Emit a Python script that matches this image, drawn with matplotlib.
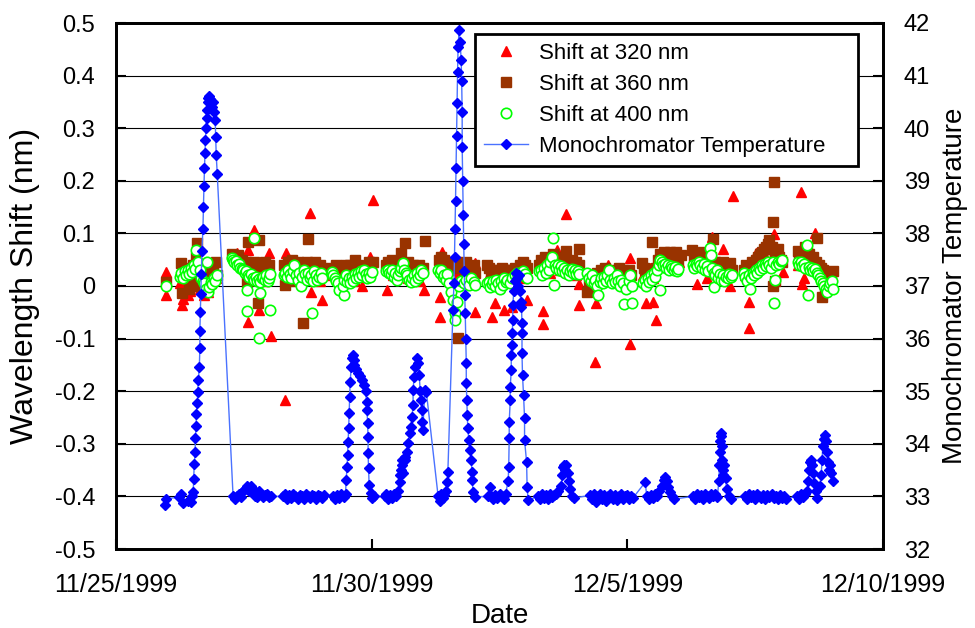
import datetime as dt
import numpy as np
import matplotlib
matplotlib.use("Agg")
import matplotlib.pyplot as plt
import matplotlib.dates as mdates
from matplotlib.ticker import FuncFormatter, MultipleLocator

plt.rcParams['font.family'] = ['Liberation Sans', 'DejaVu Sans']
plt.rcParams['axes.unicode_minus'] = False

start_date = dt.datetime(1999, 11, 25)
tick_days = [0, 5, 10, 15]

# (days after 11/25/1999, shift in nm)
shift320 = [
    (0.98, 0.027), (0.98, -0.017),
    (1.25, 0.005), (1.30, -0.036), (1.32, -0.024), (1.35, 0.01), (1.40, -0.017), (1.45, -0.01),
    (1.50, 0.0), (1.55, 0.02), (1.60, 0.01), (1.65, -0.005), (1.72, -0.017), (1.80, -0.011),
    (1.85, 0.005), (1.90, 0.03), (1.95, 0.015),
    (2.29, 0.06), (2.33, 0.05), (2.36, 0.062), (2.40, 0.045), (2.45, 0.04), (2.50, 0.035),
    (2.55, 0.03), (2.58, -0.068), (2.59, 0.068), (2.65, 0.02), (2.69, 0.106), (2.75, 0.015),
    (2.80, -0.046), (2.85, 0.02), (2.90, 0.01), (2.95, 0.015), (2.99, 0.062), (3.03, -0.095),
    (3.28, 0.03), (3.31, -0.217), (3.33, 0.062), (3.36, 0.02), (3.40, 0.035), (3.45, 0.025),
    (3.50, 0.049), (3.55, 0.02), (3.60, 0.03), (3.65, 0.015), (3.70, 0.025), (3.79, 0.138),
    (3.82, -0.011), (3.86, 0.02), (3.92, 0.03), (3.98, 0.01), (4.02, -0.027),
    (4.22, 0.02), (4.30, 0.035), (4.38, 0.01), (4.45, 0.025), (4.52, 0.015), (4.60, 0.03),
    (4.68, 0.01), (4.75, 0.02), (4.82, 0.0), (4.90, 0.025), (4.97, 0.056), (5.03, 0.164),
    (5.30, -0.008), (5.35, 0.03), (5.42, 0.02), (5.50, 0.035), (5.58, 0.025), (5.65, 0.03),
    (5.72, 0.015), (5.80, 0.02), (5.88, 0.03), (5.95, 0.01), (6.03, -0.007),
    (6.34, -0.02), (6.34, -0.058), (6.37, 0.065), (6.40, 0.03), (6.48, 0.02), (6.55, 0.035),
    (6.62, 0.03), (6.70, 0.025), (6.80, 0.04), (6.90, 0.03), (6.95, 0.01), (7.03, 0.043),
    (7.03, -0.049),
    (7.30, 0.02), (7.35, -0.058), (7.41, -0.033), (7.45, 0.01), (7.52, 0.025), (7.58, -0.046),
    (7.65, 0.015), (7.70, 0.02), (7.74, -0.039), (7.80, 0.01), (7.88, 0.025), (7.95, 0.015),
    (8.03, -0.026),
    (8.30, 0.03), (8.35, -0.048), (8.35, -0.072), (8.40, 0.035), (8.48, 0.025), (8.55, 0.04),
    (8.62, 0.069), (8.68, 0.03), (8.75, 0.04), (8.80, 0.136), (8.85, 0.025), (8.92, 0.035),
    (9.00, 0.02), (9.06, 0.004), (9.06, -0.036),
    (9.25, 0.01), (9.30, 0.02), (9.37, -0.145), (9.39, -0.033), (9.45, 0.015), (9.52, 0.025),
    (9.58, 0.03), (9.63, 0.04), (9.70, 0.02), (9.78, 0.03), (9.85, 0.015), (9.92, 0.025),
    (9.98, 0.01), (10.05, 0.054), (10.05, -0.111),
    (10.30, 0.02), (10.37, -0.032), (10.45, 0.035), (10.50, 0.015), (10.51, -0.03),
    (10.57, -0.064), (10.62, 0.04), (10.70, 0.05), (10.78, 0.045), (10.86, 0.055),
    (10.94, 0.05), (11.02, 0.045),
    (11.30, 0.06), (11.36, 0.004), (11.42, 0.045), (11.50, 0.05), (11.55, 0.015), (11.58, 0.04),
    (11.65, 0.094), (11.72, 0.035), (11.80, 0.03), (11.87, 0.071), (11.93, 0.025), (12.01, 0.0),
    (12.06, 0.171),
    (12.30, 0.02), (12.37, -0.030), (12.37, -0.079), (12.45, 0.03), (12.52, 0.062), (12.60, 0.045),
    (12.68, 0.06), (12.76, 0.07), (12.80, 0.05), (12.86, 0.099), (12.94, 0.06), (13.04, 0.027),
    (13.33, 0.04), (13.39, 0.178), (13.42, 0.004), (13.45, 0.015), (13.47, 0.05), (13.55, 0.045),
    (13.62, 0.06), (13.67, 0.1), (13.75, 0.04), (13.82, 0.02), (13.90, 0.01), (13.97, 0.015),
]

shift360 = [
    (0.98, 0.008),
    (1.28, 0.043), (1.30, -0.013), (1.35, 0.02), (1.40, 0.035), (1.42, -0.005), (1.45, 0.01),
    (1.50, 0.04), (1.52, 0.0), (1.58, 0.082), (1.57, 0.056), (1.60, 0.03), (1.65, 0.02),
    (1.70, 0.04), (1.75, 0.025), (1.80, 0.015), (1.85, 0.02), (1.90, 0.034), (1.95, 0.045),
    (1.97, 0.021),
    (2.26, 0.06), (2.30, 0.055), (2.34, 0.05), (2.38, 0.058), (2.42, 0.045), (2.46, 0.05),
    (2.50, 0.04), (2.54, 0.045), (2.56, 0.008), (2.59, 0.083), (2.60, 0.02), (2.62, 0.04),
    (2.66, 0.035), (2.70, 0.045), (2.74, 0.03), (2.78, -0.032), (2.80, 0.087), (2.84, 0.04),
    (2.88, 0.035), (2.92, 0.045), (2.96, 0.03), (3.00, 0.04),
    (3.28, 0.04), (3.30, 0.002), (3.32, 0.03), (3.36, 0.045), (3.40, 0.035), (3.44, 0.05),
    (3.48, 0.04), (3.50, 0.01), (3.52, 0.03), (3.56, 0.045), (3.60, 0.035), (3.64, 0.04),
    (3.66, -0.071), (3.70, 0.03), (3.74, 0.045), (3.76, 0.090), (3.82, 0.04), (3.86, 0.035),
    (3.90, 0.045), (3.94, 0.03), (3.98, 0.04), (4.02, 0.035),
    (4.22, 0.035), (4.26, 0.025), (4.30, 0.04), (4.34, 0.02), (4.38, 0.03), (4.42, 0.015),
    (4.46, 0.035), (4.50, 0.04), (4.54, 0.03), (4.58, 0.04), (4.62, 0.025), (4.67, 0.049),
    (4.70, 0.02), (4.74, 0.04), (4.78, 0.03), (4.82, 0.025), (4.86, 0.035), (4.90, 0.02),
    (4.94, 0.045), (4.98, 0.03), (5.03, 0.046),
    (5.28, 0.04), (5.32, 0.045), (5.36, 0.035), (5.40, 0.05), (5.44, 0.03), (5.48, 0.045),
    (5.52, 0.04), (5.58, 0.062), (5.65, 0.081), (5.64, 0.04), (5.68, 0.035), (5.72, 0.045),
    (5.76, 0.03), (5.80, 0.04), (5.84, 0.025), (5.88, 0.035), (5.92, 0.04), (5.96, 0.03),
    (6.00, 0.035), (6.04, 0.085),
    (6.32, 0.049), (6.35, 0.055), (6.38, 0.04), (6.41, 0.05), (6.44, 0.035), (6.47, 0.045),
    (6.50, 0.03), (6.55, 0.04), (6.69, -0.099), (6.65, 0.045), (6.70, 0.035), (6.75, 0.04),
    (6.80, 0.03), (6.85, 0.045), (6.90, 0.035), (6.95, 0.03), (7.00, 0.04), (7.03, 0.025),
    (7.26, 0.04), (7.30, 0.035), (7.34, 0.025), (7.38, 0.03), (7.42, 0.02), (7.46, 0.03),
    (7.50, 0.025), (7.54, 0.035), (7.58, 0.03), (7.62, 0.025), (7.66, 0.03), (7.70, 0.02),
    (7.75, 0.03), (7.80, 0.035), (7.85, 0.03), (7.90, 0.04), (7.95, 0.045), (8.00, 0.04),
    (8.03, 0.035),
    (8.27, 0.04), (8.31, 0.05), (8.35, 0.045), (8.39, 0.055), (8.43, 0.04), (8.47, 0.05),
    (8.51, 0.045), (8.55, 0.06), (8.59, 0.05), (8.63, 0.055), (8.67, 0.045), (8.71, 0.05),
    (8.75, 0.04), (8.80, 0.066), (8.84, 0.045), (8.88, 0.04), (8.92, 0.05), (8.96, 0.035),
    (9.00, 0.045), (9.05, 0.04), (9.06, 0.071),
    (9.22, -0.011), (9.25, 0.01), (9.28, 0.0), (9.31, 0.02), (9.34, -0.005), (9.37, 0.015),
    (9.40, 0.025), (9.44, 0.01), (9.48, 0.03), (9.52, 0.02), (9.56, 0.035), (9.60, 0.025),
    (9.64, 0.03), (9.68, 0.02), (9.72, 0.028), (9.76, 0.015), (9.80, 0.025), (9.84, 0.035),
    (9.88, 0.02), (9.92, 0.03), (9.96, 0.015), (10.00, 0.025), (10.04, 0.03), (10.08, 0.02),
    (10.29, 0.043), (10.32, 0.035), (10.35, 0.03), (10.38, 0.02), (10.41, 0.025), (10.44, 0.015),
    (10.47, 0.03), (10.48, 0.084), (10.53, 0.025), (10.56, 0.035), (10.60, 0.05), (10.64, 0.06),
    (10.68, 0.058), (10.72, 0.065), (10.76, 0.055), (10.80, 0.06), (10.84, 0.065), (10.88, 0.055),
    (10.92, 0.06), (10.96, 0.065), (11.00, 0.05), (11.04, 0.058),
    (11.27, 0.069), (11.30, 0.05), (11.33, 0.06), (11.36, 0.045), (11.40, 0.055), (11.44, 0.05),
    (11.48, 0.065), (11.52, 0.055), (11.56, 0.06), (11.60, 0.05), (11.64, 0.055), (11.68, 0.090),
    (11.72, 0.045), (11.76, 0.04), (11.80, 0.035), (11.84, 0.025), (11.88, 0.045), (11.92, 0.04),
    (11.96, 0.03), (12.00, 0.043), (12.04, 0.03),
    (12.28, 0.03), (12.32, 0.04), (12.36, 0.025), (12.40, 0.035), (12.44, 0.045), (12.48, 0.04),
    (12.52, 0.05), (12.56, 0.055), (12.60, 0.06), (12.64, 0.065), (12.68, 0.07), (12.72, 0.075),
    (12.75, 0.08), (12.78, 0.087), (12.80, 0.07), (12.83, 0.075), (12.84, 0.121), (12.86, 0.197),
    (12.85, 0.0), (12.88, 0.065), (12.88, 0.01), (12.91, 0.06), (12.94, 0.07), (12.97, 0.055),
    (13.00, 0.05), (13.03, 0.045),
    (13.33, 0.066), (13.36, 0.055), (13.40, 0.06), (13.44, 0.05), (13.48, 0.075), (13.52, 0.065),
    (13.56, 0.06), (13.60, 0.05), (13.64, 0.055), (13.68, 0.045), (13.70, 0.091), (13.74, 0.04),
    (13.78, 0.035), (13.82, 0.03), (13.80, -0.02), (13.86, -0.01), (13.94, 0.02), (13.98, 0.025),
    (14.02, 0.028),
]

shift400 = [
    (0.98, 0.0),
    (1.25, 0.018), (1.28, 0.024), (1.31, 0.015), (1.34, 0.028), (1.37, 0.02), (1.40, 0.03),
    (1.43, 0.022), (1.46, 0.035), (1.49, 0.026), (1.52, 0.04), (1.55, 0.032), (1.57, 0.069),
    (1.61, 0.045), (1.64, 0.03), (1.67, 0.015), (1.70, 0.01), (1.73, 0.005), (1.76, -0.005),
    (1.77, 0.046), (1.79, -0.011), (1.82, -0.002), (1.85, 0.008), (1.88, 0.003), (1.91, 0.016),
    (1.94, 0.01), (1.97, 0.02),
    (2.26, 0.053), (2.29, 0.05), (2.31, 0.045), (2.34, 0.048), (2.37, 0.04), (2.40, 0.042),
    (2.43, 0.035), (2.46, 0.033), (2.49, 0.03), (2.52, 0.025), (2.55, 0.028), (2.58, 0.02),
    (2.61, 0.018), (2.64, 0.022), (2.67, 0.015), (2.70, 0.012), (2.73, 0.018), (2.76, 0.01),
    (2.79, 0.014), (2.82, 0.008), (2.85, 0.015), (2.88, 0.018), (2.91, 0.012), (2.94, 0.02),
    (2.97, 0.009), (3.00, 0.015), (3.02, 0.022),
    (2.69, 0.092), (2.56, -0.008), (2.81, -0.013), (2.57, -0.047), (3.02, -0.046), (2.80, -0.098),
    (3.28, 0.02), (3.31, 0.025), (3.34, 0.018), (3.37, 0.03), (3.40, 0.022), (3.43, 0.015),
    (3.46, 0.028), (3.49, 0.04), (3.52, 0.02), (3.55, 0.012), (3.58, 0.025), (3.61, 0.0),
    (3.64, 0.018), (3.67, 0.03), (3.70, 0.022), (3.73, 0.012), (3.76, 0.025), (3.79, 0.015),
    (3.82, 0.02), (3.85, 0.01), (3.88, 0.028), (3.91, 0.02), (3.94, 0.012), (3.97, 0.018),
    (4.00, 0.025), (4.03, 0.015), (3.83, -0.052),
    (4.22, 0.027), (4.25, 0.02), (4.28, 0.015), (4.31, 0.01), (4.34, 0.005), (4.37, -0.008),
    (4.45, -0.017), (4.43, 0.0), (4.46, 0.012), (4.49, 0.02), (4.52, 0.008), (4.55, 0.015),
    (4.58, 0.005), (4.61, 0.018), (4.64, 0.01), (4.67, 0.022), (4.70, 0.015), (4.73, 0.025),
    (4.76, 0.018), (4.79, 0.028), (4.82, 0.02), (4.85, 0.03), (4.88, 0.022), (4.91, 0.015),
    (4.94, 0.025), (4.97, 0.018), (5.00, 0.027),
    (5.28, 0.028), (5.31, 0.03), (5.34, 0.025), (5.37, 0.022), (5.40, 0.03), (5.43, 0.018),
    (5.46, 0.025), (5.49, 0.012), (5.52, 0.02), (5.55, 0.028), (5.58, 0.035), (5.61, 0.043),
    (5.64, 0.03), (5.67, 0.025), (5.70, 0.02), (5.73, 0.012), (5.76, 0.008), (5.79, 0.015),
    (5.82, 0.02), (5.85, 0.01), (5.88, 0.025), (5.91, 0.015), (5.94, 0.02), (5.97, 0.03),
    (6.00, 0.025),
    (6.30, 0.03), (6.33, 0.024), (6.36, 0.03), (6.39, 0.018), (6.42, 0.02), (6.45, 0.012),
    (6.48, 0.022), (6.51, 0.005), (6.55, -0.011), (6.60, -0.027), (6.62, -0.052), (6.63, -0.065),
    (6.66, -0.03), (6.70, 0.0), (6.75, 0.01), (6.80, 0.005), (6.85, 0.012), (6.90, 0.002),
    (6.95, 0.015), (7.00, 0.008), (7.03, 0.002),
    (7.26, 0.005), (7.29, 0.008), (7.32, -0.002), (7.35, 0.003), (7.38, 0.01), (7.41, 0.0),
    (7.44, 0.012), (7.47, 0.006), (7.50, -0.005), (7.53, 0.01), (7.56, 0.002), (7.59, 0.015),
    (7.62, 0.008), (7.65, 0.012), (7.70, 0.005), (7.75, 0.015), (7.80, 0.02), (7.85, 0.025),
    (7.90, 0.02), (7.95, 0.028), (8.00, 0.022), (8.03, 0.015),
    (8.28, 0.028), (8.31, 0.03), (8.34, 0.02), (8.37, 0.035), (8.40, 0.025), (8.43, 0.04),
    (8.46, 0.03), (8.49, 0.045), (8.52, 0.056), (8.55, 0.092), (8.56, 0.002), (8.58, 0.04),
    (8.61, 0.035), (8.64, 0.04), (8.67, 0.03), (8.70, 0.038), (8.73, 0.028), (8.76, 0.035),
    (8.79, 0.025), (8.82, 0.03), (8.85, 0.02), (8.88, 0.028), (8.91, 0.032), (8.94, 0.025),
    (8.97, 0.03), (9.00, 0.022), (9.03, 0.028), (9.06, 0.023),
    (9.22, 0.024), (9.25, 0.015), (9.28, 0.01), (9.31, 0.02), (9.34, 0.005), (9.37, 0.012),
    (9.40, 0.0), (9.43, -0.017), (9.46, 0.008), (9.49, 0.015), (9.52, 0.005), (9.55, 0.018),
    (9.58, 0.01), (9.61, 0.02), (9.64, 0.03), (9.67, 0.012), (9.70, 0.005), (9.73, 0.015),
    (9.76, 0.008), (9.79, 0.02), (9.82, 0.01), (9.85, 0.0), (9.88, 0.012), (9.91, 0.005),
    (9.94, -0.034), (9.97, -0.005), (10.03, 0.01), (10.06, 0.02), (10.09, -0.032), (10.10, 0.0),
    (10.31, 0.005), (10.34, 0.012), (10.37, 0.0), (10.40, 0.015), (10.43, 0.008), (10.46, 0.02),
    (10.49, 0.012), (10.52, 0.025), (10.55, 0.018), (10.58, 0.03), (10.61, 0.04), (10.64, 0.049),
    (10.64, -0.008), (10.67, 0.045), (10.70, 0.04), (10.73, 0.042), (10.76, 0.035), (10.79, 0.04),
    (10.82, 0.03), (10.85, 0.038), (10.88, 0.035), (10.91, 0.03), (10.94, 0.036), (10.97, 0.028),
    (11.00, 0.032),
    (11.28, 0.04), (11.31, 0.035), (11.34, 0.042), (11.37, 0.038), (11.40, 0.045), (11.43, 0.04),
    (11.46, 0.035), (11.49, 0.042), (11.52, 0.03), (11.55, 0.038), (11.58, 0.028), (11.62, 0.072),
    (11.64, 0.059), (11.66, 0.035), (11.69, 0.025), (11.70, -0.001), (11.72, 0.02), (11.75, 0.03),
    (11.78, 0.015), (11.81, 0.022), (11.84, 0.012), (11.87, 0.02), (11.90, 0.01), (11.93, 0.018),
    (11.96, 0.015), (11.99, 0.022), (12.02, 0.018), (12.05, 0.02),
    (12.28, 0.024), (12.31, 0.018), (12.34, 0.01), (12.37, 0.02), (12.39, -0.005), (12.42, 0.015),
    (12.45, 0.025), (12.48, 0.02), (12.51, 0.03), (12.54, 0.025), (12.57, 0.035), (12.60, 0.03),
    (12.63, 0.04), (12.66, 0.035), (12.69, 0.042), (12.72, 0.038), (12.75, 0.045), (12.78, 0.04),
    (12.81, 0.035), (12.84, 0.045), (12.87, -0.033), (12.88, 0.011), (12.91, 0.04), (12.94, 0.045),
    (12.97, 0.042), (13.00, 0.048), (13.03, 0.049),
    (13.33, 0.046), (13.36, 0.04), (13.39, 0.045), (13.42, 0.038), (13.45, 0.042), (13.48, 0.035),
    (13.52, 0.078), (13.53, -0.017), (13.55, 0.036), (13.58, 0.03), (13.61, 0.035), (13.64, 0.028),
    (13.67, 0.032), (13.70, 0.025), (13.73, 0.02), (13.76, 0.015), (13.79, 0.01), (13.82, 0.005),
    (13.85, 0.0), (13.88, -0.005), (13.91, -0.011), (13.94, 0.0), (13.97, 0.005), (14.00, 0.01),
    (14.03, -0.005),
]

# (days after 11/25/1999, temperature)
mono_temp = [
    (0.96, 32.84), (0.97, 32.95), (1.24, 32.99), (1.28, 33.05), (1.32, 32.88), (1.40, 32.92),
    (1.46, 32.90), (1.49, 33.0), (1.51, 33.08), (1.52, 33.33), (1.53, 33.62), (1.55, 33.84),
    (1.55, 34.11), (1.57, 34.34), (1.57, 34.57), (1.59, 34.78), (1.60, 34.98), (1.61, 35.21),
    (1.63, 35.46), (1.64, 35.82), (1.64, 36.14), (1.65, 36.51), (1.66, 36.85), (1.67, 37.23),
    (1.68, 37.67), (1.70, 38.08), (1.71, 38.50), (1.72, 38.90), (1.73, 39.24), (1.74, 39.53),
    (1.75, 39.78), (1.76, 40.0), (1.77, 40.2), (1.78, 40.35), (1.79, 40.5), (1.80, 40.58),
    (1.82, 40.62), (1.84, 40.55), (1.86, 40.5), (1.88, 40.4), (1.90, 40.5), (1.92, 40.3),
    (1.94, 40.15), (1.95, 39.83), (1.96, 39.49), (1.98, 39.13),
    (2.29, 33.0), (2.32, 32.95), (2.36, 33.0), (2.40, 33.05), (2.44, 32.98), (2.48, 33.1),
    (2.52, 33.15), (2.56, 33.2), (2.60, 33.1), (2.64, 33.2), (2.68, 33.15), (2.72, 33.0),
    (2.76, 32.98), (2.80, 33.1), (2.84, 33.05), (2.88, 32.98), (2.92, 33.02), (2.96, 33.05),
    (3.00, 32.98), (3.04, 33.0),
    (3.27, 33.0), (3.31, 33.05), (3.35, 32.95), (3.39, 33.02), (3.43, 32.97), (3.47, 33.05),
    (3.51, 33.0), (3.55, 32.95), (3.59, 33.03), (3.63, 33.0), (3.67, 32.96), (3.71, 33.04),
    (3.75, 33.0), (3.79, 32.97), (3.83, 33.03), (3.87, 33.0), (3.91, 32.96), (3.95, 33.03),
    (3.99, 33.0), (4.03, 32.97), (4.07, 33.02),
    (4.25, 33.0), (4.29, 32.95), (4.33, 33.03), (4.37, 32.97), (4.41, 33.05), (4.45, 32.98),
    (4.49, 33.05), (4.50, 33.31), (4.52, 33.56), (4.53, 33.79), (4.54, 34.03), (4.55, 34.30),
    (4.56, 34.58), (4.57, 34.89), (4.58, 35.18), (4.60, 35.46), (4.62, 35.63), (4.63, 35.68),
    (4.65, 35.6), (4.66, 35.5), (4.69, 35.42), (4.73, 35.35), (4.77, 35.28), (4.81, 35.21),
    (4.85, 35.12), (4.88, 35.0), (4.90, 34.8), (4.91, 34.64), (4.92, 34.40), (4.93, 34.13),
    (4.93, 33.82), (4.94, 33.54), (4.95, 33.22), (4.99, 33.06), (5.01, 32.97), (5.04, 33.0),
    (5.26, 33.0), (5.29, 33.05), (5.32, 32.95), (5.36, 33.02), (5.40, 32.97), (5.44, 33.05),
    (5.48, 33.0), (5.52, 33.1), (5.55, 33.27), (5.56, 33.4), (5.57, 33.50), (5.59, 33.69),
    (5.60, 33.6), (5.62, 33.45), (5.65, 33.75), (5.66, 33.7), (5.69, 33.84), (5.71, 34.02),
    (5.75, 34.21), (5.77, 34.32), (5.79, 34.51), (5.81, 34.74), (5.81, 35.02), (5.83, 35.27),
    (5.85, 35.46), (5.89, 35.63), (5.91, 35.54), (5.93, 35.3), (5.95, 35.0), (5.97, 34.83),
    (5.98, 34.64), (5.99, 34.41), (6.00, 34.26), (6.04, 35.02), (6.07, 34.98),
    (6.30, 33.0), (6.33, 32.92), (6.36, 33.05), (6.39, 32.97), (6.42, 33.03), (6.45, 33.1),
    (6.48, 33.27), (6.49, 33.46), (6.59, 36.55), (6.61, 37.06), (6.62, 37.55), (6.63, 38.08),
    (6.64, 38.62), (6.65, 39.24), (6.66, 39.85), (6.67, 40.48), (6.68, 41.07), (6.69, 41.54),
    (6.71, 41.87), (6.73, 41.64), (6.75, 41.3), (6.76, 40.9), (6.77, 40.3), (6.77, 39.65),
    (6.78, 39.0), (6.79, 38.35), (6.80, 37.8), (6.81, 37.29), (6.82, 36.83), (6.83, 36.48),
    (6.84, 35.99), (6.85, 35.54), (6.85, 35.16), (6.86, 34.83), (6.87, 34.55), (6.88, 34.30),
    (6.90, 34.07), (6.92, 33.88), (6.95, 33.69), (6.96, 33.46), (6.97, 33.31), (6.98, 33.08),
    (7.02, 32.99),
    (7.28, 33.0), (7.31, 33.18), (7.34, 33.0), (7.38, 32.95), (7.42, 33.03), (7.46, 32.97),
    (7.50, 33.05), (7.54, 33.0), (7.58, 32.95), (7.62, 33.05), (7.67, 33.3), (7.68, 33.56),
    (7.69, 34.11), (7.69, 34.41), (7.71, 34.83), (7.71, 35.08), (7.73, 35.4), (7.73, 35.69),
    (7.74, 35.88), (7.75, 36.1), (7.76, 36.35), (7.76, 36.64), (7.78, 36.9), (7.80, 37.1),
    (7.82, 37.25), (7.84, 37.15), (7.86, 37.0), (7.88, 37.2), (7.90, 36.9), (7.92, 36.7),
    (7.93, 36.6), (7.94, 36.29), (7.94, 36.1), (7.94, 35.72), (7.95, 35.3), (7.97, 34.93),
    (7.99, 34.49), (7.99, 34.07), (8.03, 33.65), (8.04, 33.18), (8.06, 32.93),
    (8.25, 33.0), (8.29, 32.95), (8.33, 33.05), (8.37, 32.97), (8.41, 33.03), (8.45, 32.95),
    (8.49, 33.05), (8.53, 32.98), (8.57, 33.02), (8.61, 33.05), (8.65, 33.1), (8.70, 33.2),
    (8.73, 33.4), (8.74, 33.56), (8.77, 33.6), (8.79, 33.5), (8.81, 33.6), (8.83, 33.45),
    (8.85, 33.3), (8.87, 33.15), (8.92, 33.0), (8.96, 32.97),
    (9.27, 33.02), (9.31, 32.95), (9.35, 33.05), (9.39, 32.9), (9.43, 33.0), (9.47, 33.05),
    (9.51, 32.95), (9.55, 33.02), (9.59, 32.92), (9.63, 33.0), (9.67, 33.05), (9.71, 32.95),
    (9.75, 33.02), (9.79, 32.93), (9.83, 33.0), (9.87, 33.05), (9.91, 32.95), (9.95, 33.0),
    (9.99, 33.03), (10.03, 32.95), (10.07, 33.0), (10.11, 32.97),
    (10.35, 33.27), (10.38, 33.0), (10.42, 32.95), (10.46, 33.03), (10.50, 32.97), (10.54, 33.05),
    (10.58, 33.0), (10.62, 33.1), (10.68, 33.2), (10.71, 33.32), (10.74, 33.37), (10.77, 33.3),
    (10.80, 33.18), (10.84, 33.08), (10.88, 33.0), (10.92, 32.95),
    (11.28, 33.0), (11.32, 32.95), (11.36, 33.05), (11.40, 32.98), (11.44, 33.03), (11.48, 32.95),
    (11.52, 33.05), (11.56, 33.0), (11.60, 32.97), (11.64, 33.05), (11.68, 33.0), (11.72, 33.05),
    (11.76, 32.98), (11.79, 33.3), (11.80, 33.6), (11.81, 33.85), (11.82, 34.05), (11.83, 34.2),
    (11.84, 34.15), (11.85, 33.95), (11.86, 33.7), (11.87, 33.5), (11.88, 33.4), (11.90, 33.6),
    (11.92, 33.35), (11.94, 33.15), (11.98, 33.0), (12.02, 32.95),
    (12.30, 33.0), (12.34, 32.95), (12.38, 33.05), (12.42, 32.98), (12.46, 33.03), (12.50, 32.95),
    (12.54, 33.05), (12.58, 33.0), (12.62, 32.97), (12.66, 33.03), (12.70, 32.95), (12.74, 33.02),
    (12.78, 32.98), (12.82, 33.05), (12.86, 32.97), (12.90, 33.0), (12.94, 32.95), (12.98, 33.02),
    (13.02, 32.97), (13.06, 33.0), (13.10, 32.96),
    (13.32, 33.0), (13.36, 32.95), (13.40, 33.05), (13.44, 32.98), (13.48, 33.05), (13.52, 33.1),
    (13.54, 33.3), (13.56, 33.5), (13.58, 33.65), (13.60, 33.7), (13.62, 33.6), (13.64, 33.45),
    (13.66, 33.25), (13.68, 33.1), (13.70, 32.97), (13.76, 33.2), (13.79, 33.4), (13.81, 33.7),
    (13.82, 33.95), (13.84, 34.1), (13.86, 34.17), (13.88, 34.05), (13.90, 33.85), (13.92, 33.65),
    (13.94, 33.5), (13.96, 33.6), (13.98, 33.45), (14.02, 33.3),
]

t0 = mdates.date2num(start_date)


def to_xy(points):
    arr = np.array(points)
    return t0 + arr[:, 0], arr[:, 1]


fig = plt.figure(figsize=(9.75, 6.28), dpi=100)
ax = fig.add_axes([116 / 975, 1 - 549 / 628, 767 / 975, 526 / 628])
ax2 = ax.twinx()

x, y = to_xy(shift320)
h1, = ax.plot(x, y, ls='none', marker='^', ms=7.5, color='#FF0000', mec='#FF0000',
              label='Shift at 320 nm', zorder=3)
x, y = to_xy(shift360)
h2, = ax.plot(x, y, ls='none', marker='s', ms=7, color='#993300', mec='#993300',
              label='Shift at 360 nm', zorder=4)
x, y = to_xy(shift400)
h3, = ax.plot(x, y, ls='none', marker='o', ms=7.5, mfc='white', mec='#00FF00', mew=1.2,
              label='Shift at 400 nm', zorder=5)
x, y = to_xy(mono_temp)
h4, = ax2.plot(x, y, color='#4A72FF', lw=1, marker='D', ms=5, mfc='#0000FF', mec='#0000FF',
               label='Monochromator Temperature', zorder=6)

ax.set_xlim(t0, t0 + 15)
ax.set_ylim(-0.5, 0.5)
ax2.set_ylim(32, 42)
ax.yaxis.set_major_locator(MultipleLocator(0.1))
ax2.yaxis.set_major_locator(MultipleLocator(1))
ax.set_xticks([t0 + d for d in tick_days])


def date_label(v, pos):
    d = mdates.num2date(v)
    return f"{d.month}/{d.day}/{d.year}"


def shift_label(v, pos):
    v = round(v, 2)
    return "0" if abs(v) < 1e-9 else f"{v:g}"


ax.xaxis.set_major_formatter(FuncFormatter(date_label))
ax.yaxis.set_major_formatter(FuncFormatter(shift_label))

ax.set_axisbelow(True)
ax.yaxis.grid(True, color='black', lw=0.8)

for a in (ax, ax2):
    for s in a.spines.values():
        s.set_linewidth(2)
        s.set_color('black')
ax.tick_params(axis='both', direction='in', length=7, width=1.5, labelsize=17)
ax.tick_params(axis='x', pad=17, top=False, labelsize=18)
ax.tick_params(axis='y', pad=15)
ax2.tick_params(axis='y', direction='in', length=7, width=1.5, labelsize=17, pad=15)

ax.set_xlabel('Date', fontsize=20)
ax.set_ylabel('Wavelength Shift (nm)', fontsize=23)
ax2.set_ylabel('Monochromator Temperature', fontsize=20)
ax.xaxis.set_label_coords(0.5, -0.103)
ax.yaxis.set_label_coords(-0.099, 0.5)
ax2.yaxis.set_label_coords(1.077, 0.5)

leg = ax2.legend(handles=[h1, h2, h3, h4], loc='upper left',
                 bbox_to_anchor=(0.468, 0.5, 0.499, 0.479), mode='expand',
                 borderaxespad=0, fontsize=16, labelspacing=0.45, handlelength=2.0,
                 handletextpad=0.5, borderpad=0.4, fancybox=False, framealpha=1,
                 edgecolor='black')
leg.get_frame().set_linewidth(2)

fig.savefig('out.png', dpi=100)
